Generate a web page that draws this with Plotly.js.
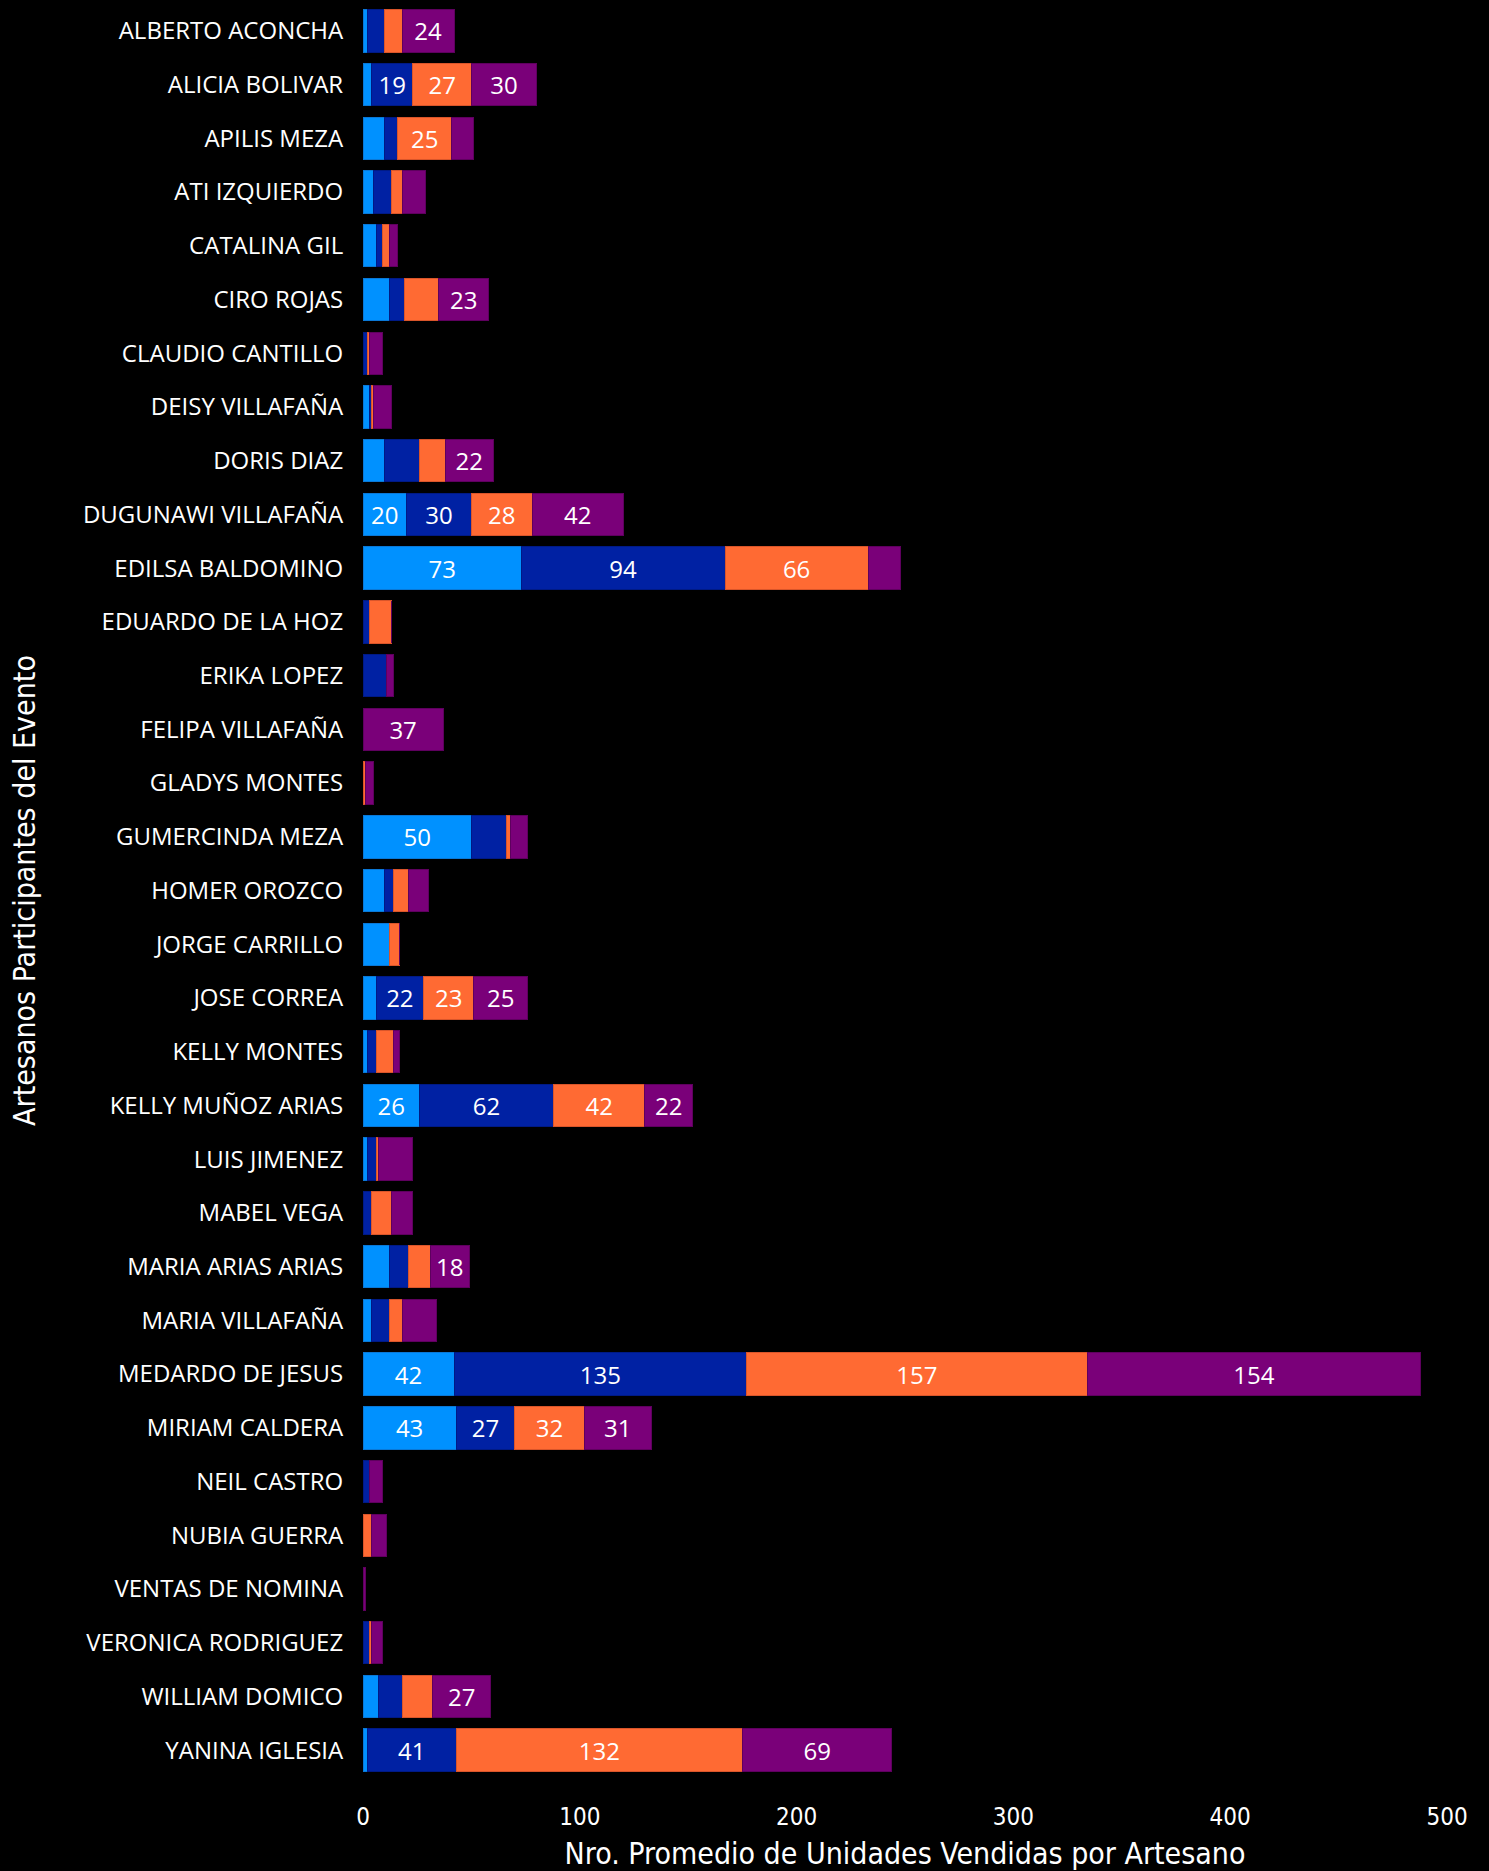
<!DOCTYPE html>
<html>
<head>
<meta charset="utf-8">
<script src="https://cdn.plot.ly/plotly-3.0.1.min.js"></script>
<style>
  html, body { margin: 0; padding: 0; background: #000; }
  #chart { width: 1489px; height: 1871px; }
</style>
</head>
<body>
<div id="chart"></div>
<script>
const artesanos = [
  "ALBERTO ACONCHA", "ALICIA BOLIVAR", "APILIS MEZA", "ATI IZQUIERDO", "CATALINA GIL",
  "CIRO ROJAS", "CLAUDIO CANTILLO", "DEISY VILLAFAÑA", "DORIS DIAZ", "DUGUNAWI VILLAFAÑA",
  "EDILSA BALDOMINO", "EDUARDO DE LA HOZ", "ERIKA LOPEZ", "FELIPA VILLAFAÑA", "GLADYS MONTES",
  "GUMERCINDA MEZA", "HOMER OROZCO", "JORGE CARRILLO", "JOSE CORREA", "KELLY MONTES",
  "KELLY MUÑOZ ARIAS", "LUIS JIMENEZ", "MABEL VEGA", "MARIA ARIAS ARIAS", "MARIA VILLAFAÑA",
  "MEDARDO DE JESUS", "MIRIAM CALDERA", "NEIL CASTRO", "NUBIA GUERRA", "VENTAS DE NOMINA",
  "VERONICA RODRIGUEZ", "WILLIAM DOMICO", "YANINA IGLESIA"
];

const serie1 = [2, 4, 10, 5, 6, 12, 0, 3, 10, 20, 73, 0, 0, 0, 0, 50, 10, 12, 6, 2, 26, 2, 0, 12, 4, 42, 43, 0, 0, 0, 0, 7, 2];
const serie2 = [8, 19, 6, 8, 3, 7, 2, 1, 16, 30, 94, 3, 11, 0, 0, 16, 4, 0, 22, 4, 62, 4, 4, 9, 8, 135, 27, 3, 0, 0, 3, 11, 41];
const serie3 = [8, 27, 25, 5, 3, 16, 1, 1, 12, 28, 66, 10, 0, 0, 1, 2, 7, 5, 23, 8, 42, 1, 9, 10, 6, 157, 32, 0, 4, 0, 1, 14, 132];
const serie4 = [24, 30, 10, 11, 4, 23, 6, 8, 22, 42, 15, 0, 3, 37, 4, 8, 9, 0, 25, 3, 22, 16, 10, 18, 16, 154, 31, 6, 7, 1, 5, 27, 69];

const seriesNames = ["Serie 1", "Serie 2", "Serie 3", "Serie 4"];
const xTicks = [0, 100, 200, 300, 400, 500];

const colors = ["#0091FF", "#0021A3", "#FF6A33", "#7A0079"];
const lineColors = ["#0A78D6", "#001A85", "#D9552A", "#5E005E"];
const labelFont = "'Open Sans', 'Noto Sans', sans-serif";
const dinFont = "'Liberation Sans Narrow', 'DejaVu Sans Condensed', sans-serif";

const allSeries = [serie1, serie2, serie3, serie4];
const traces = allSeries.map((vals, i) => ({
  type: "bar",
  orientation: "h",
  name: seriesNames[i],
  y: artesanos,
  x: vals,
  text: vals.map(v => (v >= 18 ? String(v) : "")),
  textposition: "inside",
  insidetextanchor: "middle",
  textangle: 0,
  constraintext: "none",
  textfont: { family: labelFont, size: 24, color: "#FFFFFF" },
  marker: { color: colors[i], line: { color: lineColors[i], width: 1 } },
  hoverinfo: "x+y+name"
}));

const layout = {
  width: 1489,
  height: 1871,
  paper_bgcolor: "#000000",
  plot_bgcolor: "#000000",
  barmode: "stack",
  bargap: 0.21,
  showlegend: false,
  margin: { l: 363, r: 42, t: 4, b: 94, autoexpand: false },
  xaxis: {
    range: [0, 500],
    tickvals: xTicks,
    ticktext: xTicks.map(String),
    showgrid: false,
    zeroline: false,
    showline: false,
    ticks: "outside",
    ticklen: 18,
    tickcolor: "rgba(0,0,0,0)",
    tickfont: { family: dinFont, size: 24, color: "#FFFFFF" },
    title: { text: "Nro. Promedio de Unidades Vendidas por Artesano", font: { family: dinFont, size: 30, color: "#FFFFFF" } },
    automargin: false,
    fixedrange: true
  },
  yaxis: {
    type: "category",
    autorange: "reversed",
    showgrid: false,
    zeroline: false,
    showline: false,
    ticks: "outside",
    ticklen: 14,
    tickcolor: "rgba(0,0,0,0)",
    tickfont: { family: labelFont, size: 24, color: "#FFFFFF" },
    title: { text: "Artesanos Participantes del Evento", font: { family: dinFont, size: 30, color: "#FFFFFF" }, standoff: 38 },
    automargin: true,
    fixedrange: true
  }
};

Plotly.newPlot("chart", traces, layout, { displayModeBar: false, staticPlot: true });
</script>
</body>
</html>
